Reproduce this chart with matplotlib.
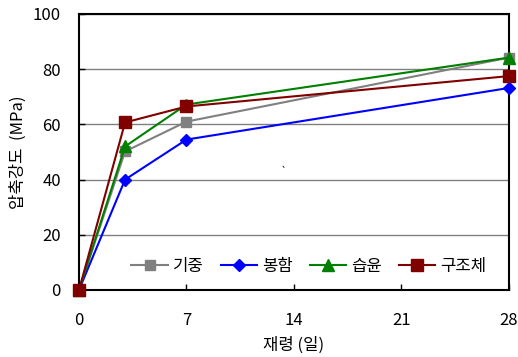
import matplotlib
matplotlib.use("Agg")
import matplotlib.pyplot as plt

plt.rcParams['font.family'] = ['Noto Sans CJK KR', 'DejaVu Sans']

# 재령 (일)
days = [0, 3, 7, 28]
# 압축강도 (MPa)
gijung = [0, 50.2, 61.0, 84.2]
bongham = [0, 40.0, 54.5, 73.2]
seubyun = [0, 52.0, 67.2, 84.2]
gujoche = [0, 60.7, 66.5, 77.5]

fig = plt.figure(figsize=(5.18, 3.57), dpi=100)
ax = fig.add_axes([0.1525, 0.1877, 0.83, 0.7731])

ax.plot(days, gijung, color='#808080', marker='s', markersize=7.5, lw=1.5, label='기중', clip_on=False, zorder=3)
ax.plot(days, bongham, color='#0000ff', marker='D', markersize=6, lw=1.5, label='봉함', clip_on=False, zorder=3)
ax.plot(days, seubyun, color='#008000', marker='^', markersize=8, lw=1.5, label='습윤', clip_on=False, zorder=3)
ax.plot(days, gujoche, color='#800000', marker='s', markersize=8, lw=1.5, label='구조체', clip_on=False, zorder=3)

ax.set_xlim(0, 28)
ax.set_ylim(0, 100)
ax.set_xticks([0, 7, 14, 21, 28])
ax.set_yticks([0, 20, 40, 60, 80, 100])
ax.tick_params(direction='in', length=4, width=1, labelsize=12)
ax.tick_params(axis='x', pad=16)
ax.tick_params(axis='y', pad=13)
ax.yaxis.grid(True, color='#808080', lw=1)
ax.set_axisbelow(True)
for s in ax.spines.values():
    s.set_linewidth(1.5)

ax.set_xlabel('재령 (일)', fontsize=12, labelpad=5)
ax.set_ylabel('압축강도  (MPa)', fontsize=12, labelpad=4)

ax.text(13.3, 42.7, '`', fontsize=7, ha='center', va='center')

ax.legend(loc='lower center', bbox_to_anchor=(0.535, 0.0), ncol=4, frameon=False,
          fontsize=12, handlelength=2.2, handletextpad=0.3, columnspacing=1.0)

fig.savefig('out.png', dpi=100)
